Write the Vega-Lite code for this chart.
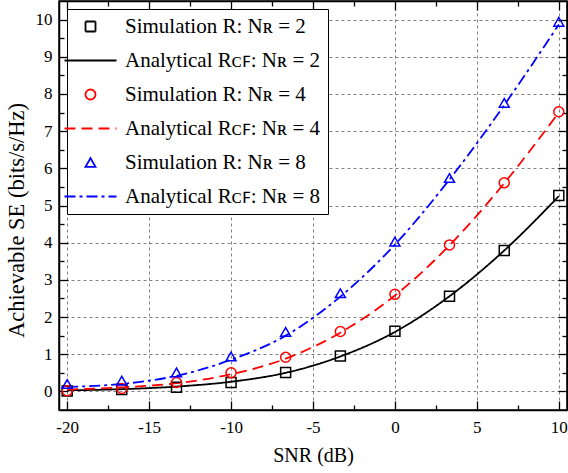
{
  "$schema": "https://vega.github.io/schema/vega-lite/v6.json",
  "width": 508,
  "height": 409,
  "autosize": "none",
  "padding": {"left": 59, "top": 1, "right": 1, "bottom": 63},
  "background": "white",
  "config": {
    "font": "Liberation Serif",
    "view": {"stroke": "black", "strokeWidth": 1.5},
    "axis": {
      "domainColor": "black",
      "domainWidth": 1.5,
      "tickColor": "black",
      "tickWidth": 1.3,
      "labelColor": "black",
      "labelFont": "Liberation Serif",
      "labelFontSize": 17,
      "titleFont": "Liberation Serif",
      "titleFontSize": 20,
      "titleFontWeight": "normal",
      "titleColor": "black",
      "labelFlush": false,
      "labelOverlap": false
    }
  },
  "data": {
    "values": [
      {"snr": -20, "se": 0.01, "series": "Simulation R: Nʀ = 2", "kind": "sim"},
      {"snr": -16.67, "se": 0.05, "series": "Simulation R: Nʀ = 2", "kind": "sim"},
      {"snr": -13.33, "se": 0.11, "series": "Simulation R: Nʀ = 2", "kind": "sim"},
      {"snr": -10, "se": 0.24, "series": "Simulation R: Nʀ = 2", "kind": "sim"},
      {"snr": -6.67, "se": 0.51, "series": "Simulation R: Nʀ = 2", "kind": "sim"},
      {"snr": -3.33, "se": 0.95, "series": "Simulation R: Nʀ = 2", "kind": "sim"},
      {"snr": 0, "se": 1.62, "series": "Simulation R: Nʀ = 2", "kind": "sim"},
      {"snr": 3.33, "se": 2.56, "series": "Simulation R: Nʀ = 2", "kind": "sim"},
      {"snr": 6.67, "se": 3.79, "series": "Simulation R: Nʀ = 2", "kind": "sim"},
      {"snr": 10, "se": 5.27, "series": "Simulation R: Nʀ = 2", "kind": "sim"},
      {"snr": -20, "se": 0.03, "series": "Analytical Rᴄꜰ: Nʀ = 2", "kind": "ana"},
      {"snr": -16.67, "se": 0.06, "series": "Analytical Rᴄꜰ: Nʀ = 2", "kind": "ana"},
      {"snr": -13.33, "se": 0.13, "series": "Analytical Rᴄꜰ: Nʀ = 2", "kind": "ana"},
      {"snr": -10, "se": 0.26, "series": "Analytical Rᴄꜰ: Nʀ = 2", "kind": "ana"},
      {"snr": -6.67, "se": 0.5, "series": "Analytical Rᴄꜰ: Nʀ = 2", "kind": "ana"},
      {"snr": -3.33, "se": 0.94, "series": "Analytical Rᴄꜰ: Nʀ = 2", "kind": "ana"},
      {"snr": 0, "se": 1.6, "series": "Analytical Rᴄꜰ: Nʀ = 2", "kind": "ana"},
      {"snr": 3.33, "se": 2.56, "series": "Analytical Rᴄꜰ: Nʀ = 2", "kind": "ana"},
      {"snr": 6.67, "se": 3.79, "series": "Analytical Rᴄꜰ: Nʀ = 2", "kind": "ana"},
      {"snr": 10, "se": 5.25, "series": "Analytical Rᴄꜰ: Nʀ = 2", "kind": "ana"},
      {"snr": -20, "se": 0.02, "series": "Simulation R: Nʀ = 4", "kind": "sim"},
      {"snr": -16.67, "se": 0.08, "series": "Simulation R: Nʀ = 4", "kind": "sim"},
      {"snr": -13.33, "se": 0.24, "series": "Simulation R: Nʀ = 4", "kind": "sim"},
      {"snr": -10, "se": 0.5, "series": "Simulation R: Nʀ = 4", "kind": "sim"},
      {"snr": -6.67, "se": 0.92, "series": "Simulation R: Nʀ = 4", "kind": "sim"},
      {"snr": -3.33, "se": 1.61, "series": "Simulation R: Nʀ = 4", "kind": "sim"},
      {"snr": 0, "se": 2.61, "series": "Simulation R: Nʀ = 4", "kind": "sim"},
      {"snr": 3.33, "se": 3.94, "series": "Simulation R: Nʀ = 4", "kind": "sim"},
      {"snr": 6.67, "se": 5.61, "series": "Simulation R: Nʀ = 4", "kind": "sim"},
      {"snr": 10, "se": 7.52, "series": "Simulation R: Nʀ = 4", "kind": "sim"},
      {"snr": -20, "se": 0.05, "series": "Analytical Rᴄꜰ: Nʀ = 4", "kind": "ana"},
      {"snr": -16.67, "se": 0.11, "series": "Analytical Rᴄꜰ: Nʀ = 4", "kind": "ana"},
      {"snr": -13.33, "se": 0.22, "series": "Analytical Rᴄꜰ: Nʀ = 4", "kind": "ana"},
      {"snr": -10, "se": 0.46, "series": "Analytical Rᴄꜰ: Nʀ = 4", "kind": "ana"},
      {"snr": -6.67, "se": 0.88, "series": "Analytical Rᴄꜰ: Nʀ = 4", "kind": "ana"},
      {"snr": -3.33, "se": 1.58, "series": "Analytical Rᴄꜰ: Nʀ = 4", "kind": "ana"},
      {"snr": 0, "se": 2.58, "series": "Analytical Rᴄꜰ: Nʀ = 4", "kind": "ana"},
      {"snr": 3.33, "se": 3.93, "series": "Analytical Rᴄꜰ: Nʀ = 4", "kind": "ana"},
      {"snr": 6.67, "se": 5.6, "series": "Analytical Rᴄꜰ: Nʀ = 4", "kind": "ana"},
      {"snr": 10, "se": 7.5, "series": "Analytical Rᴄꜰ: Nʀ = 4", "kind": "ana"},
      {"snr": -20, "se": 0.2, "series": "Simulation R: Nʀ = 8", "kind": "sim"},
      {"snr": -16.67, "se": 0.29, "series": "Simulation R: Nʀ = 8", "kind": "sim"},
      {"snr": -13.33, "se": 0.51, "series": "Simulation R: Nʀ = 8", "kind": "sim"},
      {"snr": -10, "se": 0.94, "series": "Simulation R: Nʀ = 8", "kind": "sim"},
      {"snr": -6.67, "se": 1.6, "series": "Simulation R: Nʀ = 8", "kind": "sim"},
      {"snr": -3.33, "se": 2.64, "series": "Simulation R: Nʀ = 8", "kind": "sim"},
      {"snr": 0, "se": 4.03, "series": "Simulation R: Nʀ = 8", "kind": "sim"},
      {"snr": 3.33, "se": 5.74, "series": "Simulation R: Nʀ = 8", "kind": "sim"},
      {"snr": 6.67, "se": 7.76, "series": "Simulation R: Nʀ = 8", "kind": "sim"},
      {"snr": 10, "se": 9.94, "series": "Simulation R: Nʀ = 8", "kind": "sim"},
      {"snr": -20, "se": 0.12, "series": "Analytical Rᴄꜰ: Nʀ = 8", "kind": "ana"},
      {"snr": -16.67, "se": 0.2, "series": "Analytical Rᴄꜰ: Nʀ = 8", "kind": "ana"},
      {"snr": -13.33, "se": 0.42, "series": "Analytical Rᴄꜰ: Nʀ = 8", "kind": "ana"},
      {"snr": -10, "se": 0.85, "series": "Analytical Rᴄꜰ: Nʀ = 8", "kind": "ana"},
      {"snr": -6.67, "se": 1.5, "series": "Analytical Rᴄꜰ: Nʀ = 8", "kind": "ana"},
      {"snr": -3.33, "se": 2.55, "series": "Analytical Rᴄꜰ: Nʀ = 8", "kind": "ana"},
      {"snr": 0, "se": 3.95, "series": "Analytical Rᴄꜰ: Nʀ = 8", "kind": "ana"},
      {"snr": 3.33, "se": 5.7, "series": "Analytical Rᴄꜰ: Nʀ = 8", "kind": "ana"},
      {"snr": 6.67, "se": 7.7, "series": "Analytical Rᴄꜰ: Nʀ = 8", "kind": "ana"},
      {"snr": 10, "se": 9.87, "series": "Analytical Rᴄꜰ: Nʀ = 8", "kind": "ana"}
    ]
  },
  "layer": [
    {
      "transform": [{"filter": "datum.kind === 'ana'"}],
      "mark": {"type": "line", "strokeWidth": 1.8, "interpolate": "monotone"},
      "encoding": {
        "x": {
          "field": "snr", "type": "quantitative",
          "scale": {"domain": [-20.5, 10.5], "nice": false, "zero": false},
          "axis": {
            "orient": "bottom",
            "title": "SNR (dB)",
            "values": [-20, -17.5, -15, -12.5, -10, -7.5, -5, -2.5, 0, 2.5, 5, 7.5, 10],
            "labelExpr": "datum.value % 5 === 0 ? '' + datum.value : ''",
            "tickSize": {"condition": {"test": "datum.value % 5 === 0", "value": -9}, "value": -5},
            "grid": true,
            "gridColor": "#808080",
            "gridDash": [3, 3],
            "gridWidth": 1,
            "gridOpacity": {"condition": {"test": "datum.value % 5 === 0", "value": 1}, "value": 0},
            "labelPadding": 18,
            "titlePadding": 6
          }
        },
        "y": {
          "field": "se", "type": "quantitative",
          "scale": {"domain": [-0.5, 10.5], "nice": false, "zero": false},
          "axis": {
            "orient": "left",
            "title": "Achievable SE (bits/s/Hz)",
            "titleFontSize": 22.5,
            "titleY": 219,
            "values": [0, 0.5, 1, 1.5, 2, 2.5, 3, 3.5, 4, 4.5, 5, 5.5, 6, 6.5, 7, 7.5, 8, 8.5, 9, 9.5, 10],
            "labelExpr": "datum.value % 1 === 0 ? '' + datum.value : ''",
            "tickSize": {"condition": {"test": "datum.value % 1 === 0", "value": -9}, "value": -5},
            "grid": true,
            "gridColor": "#808080",
            "gridDash": [3, 3],
            "gridWidth": 1,
            "gridOpacity": {"condition": {"test": "datum.value % 1 === 0", "value": 1}, "value": 0},
            "labelPadding": 16,
            "titlePadding": 7
          }
        },
        "color": {
          "field": "series", "type": "nominal",
          "scale": {
            "domain": ["Simulation R: Nʀ = 2", "Analytical Rᴄꜰ: Nʀ = 2", "Simulation R: Nʀ = 4", "Analytical Rᴄꜰ: Nʀ = 4", "Simulation R: Nʀ = 8", "Analytical Rᴄꜰ: Nʀ = 8"],
            "range": ["#000000", "#000000", "#ff0000", "#ff0000", "#0000ff", "#0000ff"]
          },
          "legend": {
            "title": null,
            "orient": "none",
            "legendX": 8,
            "legendY": 8,
            "labelFont": "Liberation Serif",
            "labelFontSize": 21,
            "labelColor": "black",
            "labelLimit": 400,
            "symbolSize": 100,
            "symbolStrokeWidth": 1.8,
            "symbolFillColor": "transparent",
            "symbolOffset": 6,
            "labelOffset": 24,
            "rowPadding": 12,
            "padding": 7,
            "strokeColor": "black",
            "fillColor": "white"
          }
        },
        "strokeDash": {
          "field": "series", "type": "nominal",
          "scale": {
            "domain": ["Simulation R: Nʀ = 2", "Analytical Rᴄꜰ: Nʀ = 2", "Simulation R: Nʀ = 4", "Analytical Rᴄꜰ: Nʀ = 4", "Simulation R: Nʀ = 8", "Analytical Rᴄꜰ: Nʀ = 8"],
            "range": [[1, 0], [1, 0], [1, 0], [11, 6], [1, 0], [11, 4, 3, 4]]
          }
        }
      }
    },
    {
      "transform": [{"filter": "datum.kind === 'sim'"}],
      "mark": {"type": "point", "filled": false, "size": 100, "strokeWidth": 1.5, "opacity": 1},
      "encoding": {
        "x": {
          "field": "snr", "type": "quantitative",
          "axis": {
            "orient": "top",
            "title": null,
            "labels": false,
            "grid": false,
            "values": [-20, -17.5, -15, -12.5, -10, -7.5, -5, -2.5, 0, 2.5, 5, 7.5, 10],
            "tickSize": {"condition": {"test": "datum.value % 5 === 0", "value": -9}, "value": -5}
          }
        },
        "y": {
          "field": "se", "type": "quantitative",
          "axis": {
            "orient": "right",
            "title": null,
            "labels": false,
            "grid": false,
            "values": [0, 0.5, 1, 1.5, 2, 2.5, 3, 3.5, 4, 4.5, 5, 5.5, 6, 6.5, 7, 7.5, 8, 8.5, 9, 9.5, 10],
            "tickSize": {"condition": {"test": "datum.value % 1 === 0", "value": -9}, "value": -5}
          }
        },
        "color": {"field": "series", "type": "nominal"},
        "shape": {
          "field": "series", "type": "nominal",
          "scale": {
            "domain": ["Simulation R: Nʀ = 2", "Analytical Rᴄꜰ: Nʀ = 2", "Simulation R: Nʀ = 4", "Analytical Rᴄꜰ: Nʀ = 4", "Simulation R: Nʀ = 8", "Analytical Rᴄꜰ: Nʀ = 8"],
            "range": ["square", "M-5.2,0H5.2", "circle", "M-5.2,0H5.2", "triangle-up", "M-5.2,0H5.2"]
          }
        }
      }
    }
  ]
}
